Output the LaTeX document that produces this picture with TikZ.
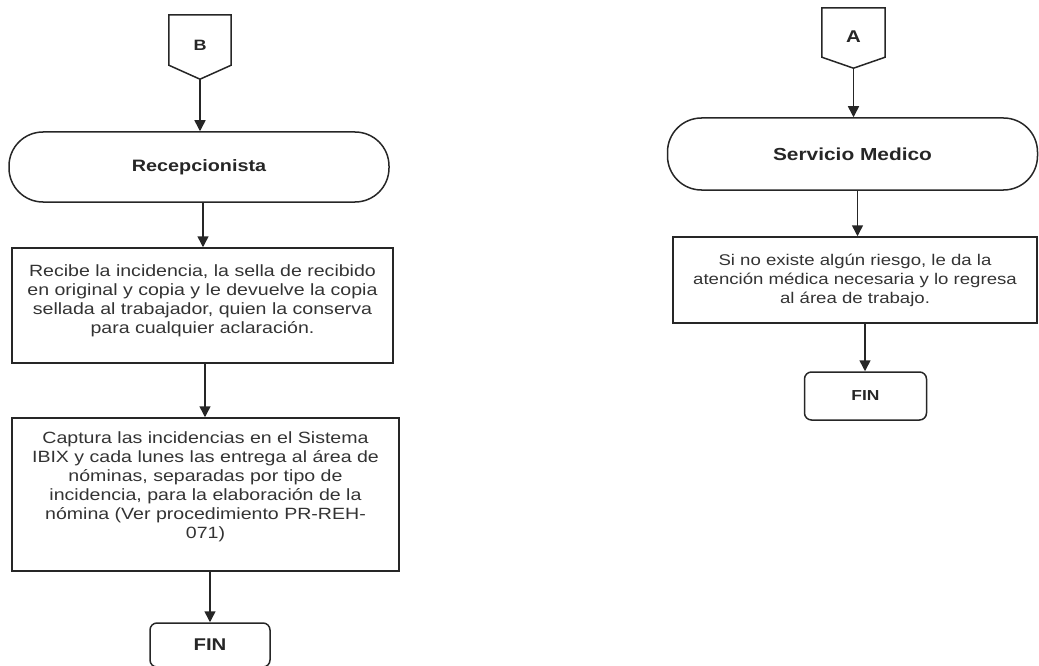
\documentclass[tikz,border=0pt]{standalone}
\usepackage{fontspec}
\setmainfont{Liberation Sans}[FakeStretch=1.2]
\usetikzlibrary{arrows.meta}
\begin{document}
\begin{tikzpicture}[x=1pt,y=-1pt,
 ln/.style={line width=1.5pt, draw=black!85},
 arr/.style={ln, -{Triangle[width=11pt,length=11pt]}},
 conn/.style={inner sep=0pt, font=\fontsize{16}{19}\selectfont\bfseries, text=black!85},
 term/.style={ln, rounded corners=34pt, inner sep=0pt, font=\fontsize{16.5}{19}\selectfont\bfseries, text=black!85},
 proc/.style={ln, rectangle, align=center, inner sep=0pt, font=\fontsize{16.3}{19}\selectfont, text=black!80},
 fin/.style={ln, rounded corners=7pt, inner sep=0pt, font=\fontsize{16}{19}\selectfont\bfseries, text=black!85}
]
\useasboundingbox (0,0) rectangle (1039,666);
% ---------- left column ----------
\node[conn, minimum width=62pt, minimum height=64pt, font=\fontsize{15}{19}\selectfont\bfseries] (B) at (200,47) {\raisebox{3pt}{B}};
\draw[ln] (B.north west) -- (B.north east) -- ([yshift=14pt]B.south east) -- (B.south) -- ([yshift=14pt]B.south west) -- cycle;
\node[term, minimum width=380pt, minimum height=70pt] (R) at (199,167) {Recepcionista};
\node[proc, minimum width=381pt, minimum height=115pt] (b1) at (202.5,305.5)
 {Recibe la incidencia, la sella de recibido\\
  en original y copia y le devuelve la copia\\
  sellada al trabajador, quien la conserva\\
  para cualquier aclaración.\\[-7pt]\mbox{}};
\node[proc, minimum width=387pt, minimum height=153pt] (b2) at (205.5,494.5)
 {Captura las incidencias en el Sistema\\
  IBIX y cada lunes las entrega al área de\\
  nóminas, separadas por tipo de\\
  incidencia, para la elaboración de la\\
  nómina (Ver procedimiento PR-REH-\\
  071)\\ \mbox{}};
\node[fin, minimum width=120pt, minimum height=44pt, font=\fontsize{17}{19}\selectfont\bfseries] (F1) at (210,645) {FIN};
\draw[arr] (B.south) -- (B.south |- R.north);
\draw[arr] ([xshift=4pt]R.south) -- ([xshift=4pt]R.south |- b1.north);
\draw[arr] ([xshift=2.5pt]b1.south) -- ([xshift=2.5pt]b1.south |- b2.north);
\draw[arr] ([xshift=4.5pt]b2.south) -- ([xshift=4.5pt]b2.south |- F1.north);
% ---------- right column ----------
\node[conn, minimum width=63pt, minimum height=60pt, font=\fontsize{17}{19}\selectfont\bfseries] (A) at (853.5,38) {\raisebox{3pt}{A}};
\draw[ln] (A.north west) -- (A.north east) -- ([yshift=11pt]A.south east) -- (A.south) -- ([yshift=11pt]A.south west) -- cycle;
\node[term, minimum width=370pt, minimum height=72pt, font=\fontsize{17.4}{19}\selectfont\bfseries] (S) at (852.5,154) {Servicio Medico};
\node[proc, minimum width=364pt, minimum height=86pt, font=\fontsize{15.5}{19}\selectfont] (b3) at (855,280)
 {Si no existe algún riesgo, le da la\\
  atención médica necesaria y lo regresa\\
  al área de trabajo.};
\node[fin, minimum width=122pt, minimum height=48pt, font=\fontsize{14.5}{19}\selectfont\bfseries] (F2) at (865.5,396) {FIN};
\draw[arr] (A.south) -- (A.south |- S.north);
\draw[arr] ([xshift=5pt]S.south) -- ([xshift=5pt]S.south |- b3.north);
\draw[arr] ([xshift=10pt]b3.south) -- ([xshift=10pt]b3.south |- F2.north);
\end{tikzpicture}
\end{document}
